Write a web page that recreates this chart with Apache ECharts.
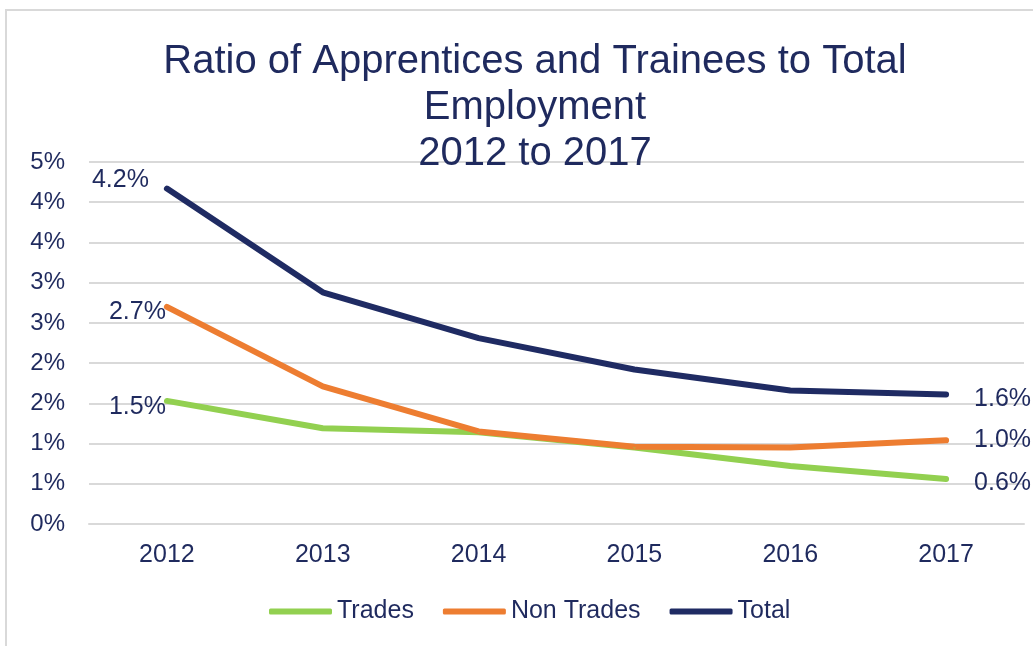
<!DOCTYPE html>
<html>
<head>
<meta charset="utf-8">
<style>
  html, body { margin: 0; padding: 0; background: #fff; }
  #chart { width: 1033px; height: 646px; }
</style>
<script src="https://cdn.jsdelivr.net/npm/echarts@6/dist/echarts.min.js"></script>
</head>
<body>
<div id="chart"></div>
<script>
  var years = ['2012', '2013', '2014', '2015', '2016', '2017']
  var trades = [1.53, 1.19, 1.14, 0.95, 0.72, 0.56]
  var nonTrades = [2.70, 1.71, 1.15, 0.96, 0.95, 1.04]
  var total = [4.17, 2.88, 2.31, 1.92, 1.66, 1.61]

  var navy = '#1F2A5E'
  var font = 'Liberation Sans, Arial, sans-serif'

  // label placement for the first and last point of each line
  function withEndLabels(values, first, last) {
    return values.map(function (v, i) {
      if (i === 0) return { value: v, label: Object.assign({ show: true, position: 'left' }, first) }
      if (i === values.length - 1) return { value: v, label: Object.assign({ show: true, position: 'right' }, last) }
      return v
    })
  }

  function lineSeries(name, color, data) {
    return {
      name: name,
      type: 'line',
      symbol: 'circle',
      symbolSize: 2,
      showSymbol: true,
      data: data,
      lineStyle: { color: color, width: 6, cap: 'round', join: 'round' },
      itemStyle: { color: color },
      label: {
        show: false,
        color: navy,
        fontSize: 25,
        fontFamily: font,
        formatter: function (p) { return p.value.toFixed(1) + '%' }
      },
      animation: false
    }
  }

  var chart = echarts.init(document.getElementById('chart'))
  chart.setOption({
    backgroundColor: '#fff',
    graphic: [{
      type: 'rect',
      shape: { x: 6, y: 10, width: 1040, height: 660 },
      style: { fill: 'none', stroke: '#D9D9D9', lineWidth: 2 },
      silent: true
    }],
    title: {
      text: 'Ratio of Apprentices and Trainees to Total\nEmployment\n2012 to 2017',
      left: 530,
      top: 34,
      textAlign: 'center',
      textStyle: {
        color: navy,
        fontSize: 40,
        fontWeight: 'normal',
        fontFamily: font,
        lineHeight: 46
      }
    },
    legend: {
      left: 264,
      top: 594,
      icon: 'roundRect',
      itemWidth: 63,
      itemHeight: 6,
      itemGap: 29,
      textStyle: { color: navy, fontSize: 25, fontFamily: font },
      data: ['Trades', 'Non Trades', 'Total']
    },
    grid: { left: 89, right: 9, top: 162, bottom: 122, containLabel: false },
    xAxis: {
      type: 'category',
      data: years,
      boundaryGap: true,
      axisTick: { show: false },
      axisLine: { lineStyle: { color: '#D9D9D9', width: 2 } },
      axisLabel: { color: navy, fontSize: 25, fontFamily: font, margin: 19 }
    },
    yAxis: {
      type: 'value',
      min: 0,
      max: 4.5,
      interval: 0.5,
      axisLine: { show: false },
      axisTick: { show: false },
      splitLine: { lineStyle: { color: '#D9D9D9', width: 2 } },
      axisLabel: {
        color: navy,
        fontSize: 24,
        fontFamily: font,
        margin: 24,
        formatter: function (v) { return Math.round(v) + '%' }
      }
    },
    series: [
      lineSeries('Trades', '#92D050', withEndLabels(trades,
        { distance: 0, offset: [0, 6] }, { distance: 27, offset: [0, 4] })),
      lineSeries('Non Trades', '#ED7D31', withEndLabels(nonTrades,
        { distance: 0, offset: [0, 5] }, { distance: 27, offset: [0, 0] })),
      lineSeries('Total', '#1F2B63', withEndLabels(total,
        { distance: 17, offset: [0, -8] }, { distance: 27, offset: [0, 5] }))
    ]
  })
</script>
</body>
</html>
